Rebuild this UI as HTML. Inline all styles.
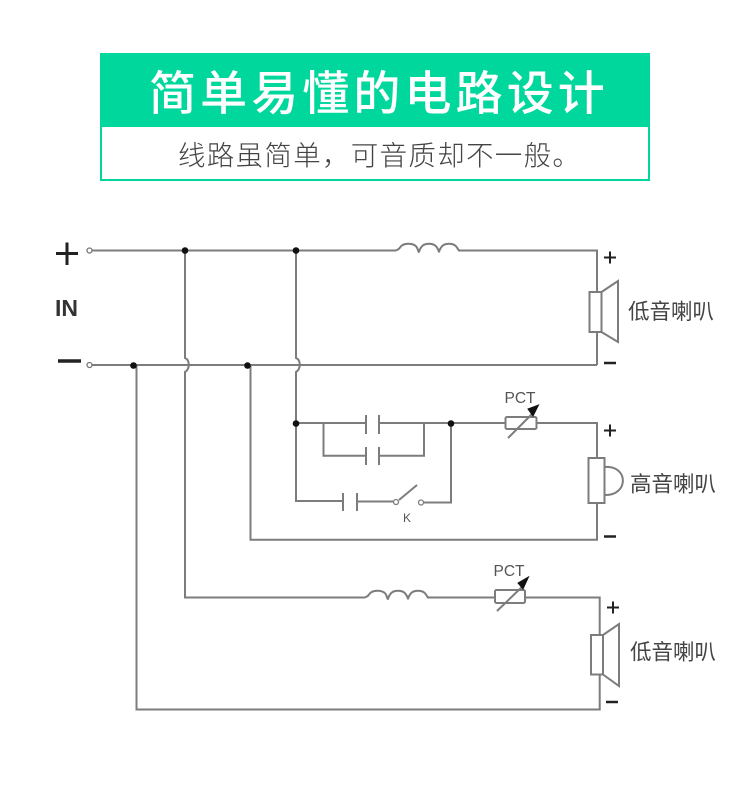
<!DOCTYPE html>
<html>
<head>
<meta charset="utf-8">
<style>
html,body{margin:0;padding:0;background:#fff}
body{width:750px;height:786px;overflow:hidden;position:relative}
svg{position:absolute;left:0;top:0}
</style>
</head>
<body>
<svg width="750" height="786" viewBox="0 0 750 786" xmlns="http://www.w3.org/2000/svg">
<!-- Banner -->
<rect x="101" y="54" width="548" height="126" fill="#fff" stroke="#00d79c" stroke-width="2"/>
<rect x="100" y="53" width="550" height="74" fill="#00d79c"/>
<text x="149" y="110" font-family="'Liberation Sans','Noto Sans CJK SC',sans-serif" font-size="47" font-weight="500" letter-spacing="4.100" fill="#fff">简单易懂的电路设计</text>
<text x="178" y="165" font-family="'Liberation Sans','Noto Sans CJK SC',sans-serif" font-size="27.500" font-weight="300" letter-spacing="1.300" fill="#444">线路虽简单，可音质却不一般。</text>

<g fill="none" stroke="#7c7c7c" stroke-width="2">
<!-- top + rail -->
<path d="M92 250.500H396M458 250.500H597V365"/>
<path d="M396 250.500c2-1 3-1 4-3c3-5 14-5 17 0c1 3 2 5 2 5c0-2 1-3 2-5c3-5 13-5 16 0c1 2 2 3 2 5c0-2 1-3 2-5c3-5 13-5 16 0c1 2 2 3 3 3"/>
<!-- bottom - rail -->
<path d="M92 365H597"/>
<!-- verticals with hops -->
<path d="M185 250.500V358c5 2 5 11 0 14V597.500H365"/>
<path d="M296 250.500V358c5 2 5 11 0 14V501H343"/>
<path d="M136.500 365V709.500H599.700V675"/>
<path d="M250.500 365V539.700H597V503"/>
<!-- mid branch -->
<path d="M296 423H366M379 423H505M536 423H597V458"/>
<path d="M323.500 423V455.700H366M379 455.700H424V423"/>
<path d="M366 415V434M379 415V434M366 447V465M379 447V465"/>
<path d="M343 493V511M357 493V511M357 501.500H393"/>
<path d="M399 500L417 485M424 502.500H451V423"/>
<!-- K switch contacts -->
<circle cx="396" cy="502" r="2.500" fill="#fff" stroke-width="1.300"/>
<circle cx="421" cy="502.500" r="2.500" fill="#fff" stroke-width="1.300"/>
<!-- PCT 1 -->
<rect x="505.500" y="417" width="31" height="12" rx="1.500"/>
<path d="M508 438L533 413"/>
<!-- lower inductor -->
<path d="M365 597.500c2-1 3-1 4-3c3-5 14-5 17 0c1 3 2 5 2 5c0-2 1-3 2-5c3-5 13-5 16 0c1 2 2 3 2 5c0-2 1-3 2-5c3-5 13-5 16 0c1 2 2 3 3 3"/>
<path d="M427 597.500H495M525 597.500H599.700V635"/>
<!-- PCT 2 -->
<rect x="495" y="590" width="30" height="13" rx="1.500"/>
<path d="M497 611L523 586"/>
<!-- speaker 1 -->
<rect x="589.500" y="292" width="12" height="40" fill="#fff"/>
<path d="M601.500 292L618 281V342L601.500 332"/>
<!-- tweeter -->
<rect x="588.500" y="458" width="16" height="45" fill="#fff"/>
<path d="M604.500 467C629 465 629 496 604.500 495"/>
<!-- speaker 3 -->
<rect x="591" y="635" width="12" height="39.500" fill="#fff"/>
<path d="M603 635L619 624V686L603 674.500"/>
</g>
<circle cx="89.500" cy="250.500" r="2.500" fill="#fff" stroke="#777" stroke-width="1.300"/>
<circle cx="89.500" cy="365" r="2.500" fill="#fff" stroke="#777" stroke-width="1.300"/>
<!-- junction dots -->
<g fill="#111">
<circle cx="185" cy="250.500" r="3.300"/>
<circle cx="296" cy="250.500" r="3.300"/>
<circle cx="133.500" cy="365.500" r="3.300"/>
<circle cx="247.500" cy="365.500" r="3.300"/>
<circle cx="296" cy="423.500" r="3.300"/>
<circle cx="451" cy="423.500" r="3.300"/>
<path d="M528 409L538.500 405L533 416Z" stroke="#111" stroke-width="1"/>
<path d="M518 583L528.500 577L523 589Z" stroke="#111" stroke-width="1"/>
</g>
<!-- Input signs -->
<g stroke="#222" fill="none">
<path d="M56 253.500H78M67 242.500V265" stroke-width="3"/>
<path d="M58 361H81" stroke-width="3.500"/>
<path d="M604 257.500H616M610 251.500V263.500" stroke-width="2"/>
<path d="M604 363H616" stroke-width="2.500"/>
<path d="M604 430.500H616M610 424.500V436.500" stroke-width="2"/>
<path d="M604 536.500H616" stroke-width="2.500"/>
<path d="M607 607.500H619M613 601.500V613.500" stroke-width="2"/>
<path d="M606 702H618" stroke-width="2.500"/>
</g>
<text x="55" y="316" font-family="'Liberation Sans',sans-serif" font-size="23" font-weight="bold" fill="#333">IN</text>
<g font-family="'Liberation Sans',sans-serif" fill="#555">
<text x="504.500" y="403" font-size="15.500">PCT</text>
<text x="493.500" y="576" font-size="15.500">PCT</text>
<text x="403" y="522" font-size="12">K</text>
</g>
<g font-family="'Liberation Sans','Noto Sans CJK SC',sans-serif" font-size="21.500" fill="#444">
<text x="628" y="319">低音喇叭</text>
<text x="630" y="491.500">高音喇叭</text>
<text x="630" y="659.500">低音喇叭</text>
</g>
</svg>
</body>
</html>
